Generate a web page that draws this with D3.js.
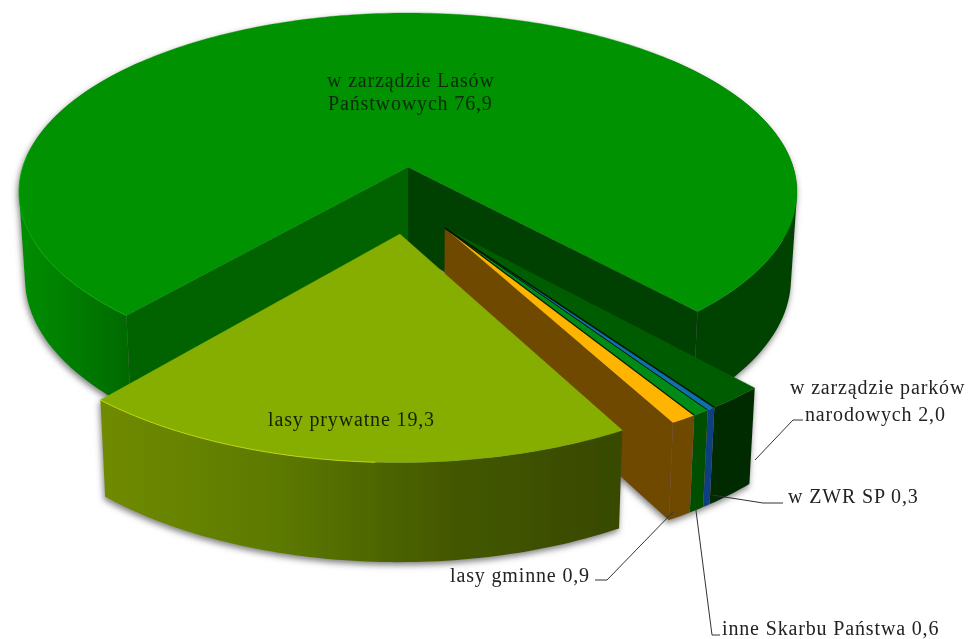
<!DOCTYPE html>
<html><head><meta charset="utf-8">
<script src="https://cdn.jsdelivr.net/npm/d3@7"></script>
<style>html,body{margin:0;padding:0;background:#fff}svg{display:block}</style>
</head><body><svg id="c" width="972" height="639"></svg>
<script>
// ---- data, clockwise from the big slice
const names  = ["w zarządzie Lasów Państwowych","w zarządzie parków narodowych","w ZWR SP","inne Skarbu Państwa","lasy gminne","lasy prywatne"];
const values = [76.9, 2.0, 0.3, 0.6, 0.9, 19.3];
const groups = ["big","small","small","small","small","private"];
const topColors  = ["#009200","#005c00","#0f6fb0","#008a14","#ffb400","#86ae00"];
const wallColors = ["#034203","#002a00","#0a3f80","#004f00","#6f4a00","#4f6a00"];
const bigFrontStops  = ["#008c00","#007c00","#006a00"];
const privFrontStops = ["#708b00","#5d7a00","#445800","#384800"];

// ---- layout
const W = 972, H = 639, deg = Math.PI/180;
const topPlane = {xc:408, yc:192, a:389, b:179};
const botPlane = {xc:408, yc:278.6, a:383, b:187.6};
const v0 = -0.14, sq = Math.sqrt(1 - v0*v0);
const groupOffset = {big:[0,0], private:[-0.02,0.363], small:[0.0915,0.332]};
const firstAngle = 220.8*deg;

function project(X, Y, pl){
  const den = 1 + Y*v0;
  return [pl.xc + pl.a*X*sq/den, pl.yc + pl.b*(Y+v0)/den];
}
function pt(slice, ang, r, pl){
  const o = groupOffset[slice.group];
  return project(o[0] + r*Math.sin(ang), o[1] - r*Math.cos(ang), pl);
}

const pie = d3.pie().sort(null).value(d=>d.value).startAngle(firstAngle).endAngle(firstAngle+2*Math.PI);
const slices = pie(values.map((v,i)=>({value:v,i}))).map(s=>({
  start:s.startAngle, end:s.endAngle, i:s.data.i, value:s.data.value, group:groups[s.data.i]
}));

const svg = d3.select("#c");
svg.append("rect").attr("width",W).attr("height",H).attr("fill","#fff");
const defs = svg.append("defs");
defs.append("filter").attr("id","sh").attr("x","-10%").attr("y","-10%").attr("width","120%").attr("height","120%")
  .append("feDropShadow").attr("dx",-1).attr("dy",3).attr("stdDeviation",3).attr("flood-color","#555").attr("flood-opacity",.75);
defs.append("filter").attr("id","soft").attr("x","-2%").attr("y","-2%").attr("width","104%").attr("height","104%")
  .append("feGaussianBlur").attr("stdDeviation",.45);

function hGrad(id, x0, x1, stops){
  const g = defs.append("linearGradient").attr("id",id).attr("gradientUnits","userSpaceOnUse")
    .attr("x1",x0).attr("x2",x1).attr("y1",0).attr("y2",0);
  stops.forEach((c,k)=>g.append("stop").attr("offset",k/(stops.length-1)).attr("stop-color",c));
  return "url(#"+id+")";
}

const page = svg.append("g").attr("filter","url(#soft)");
const root = page.append("g").attr("filter","url(#sh)");
const line = d3.line();

function arcPts(s, pl, from, to){
  const n = Math.max(2, Math.ceil(Math.abs(to-from)/(1*deg)));
  return d3.range(n+1).map(k=>pt(s, from+(to-from)*k/n, 1, pl));
}
function drawTop(g, s){
  const a = pt(s, s.start, 0, topPlane);
  g.append("path").attr("d", line([a,...arcPts(s,topPlane,s.start,s.end)])+"Z")
    .attr("fill",topColors[s.i]).attr("stroke",topColors[s.i]).attr("stroke-width",.4);
}
// wall drawn as one path of many small quads, all wound the same way
function drawOuter(g, s, from, to, fill){
  const n = Math.max(1, Math.ceil((to-from)/(1*deg)));
  const d = d3.range(n).map(k=>{
    const t0 = from+(to-from)*k/n, t1 = from+(to-from)*(k+1)/n;
    const q = [pt(s,t0,1,topPlane),pt(s,t1,1,topPlane),pt(s,t1,1,botPlane),pt(s,t0,1,botPlane)];
    if (d3.polygonArea(q) < 0) q.reverse();
    return line(q)+"Z";
  }).join("");
  g.append("path").attr("d", d).attr("fill",fill).attr("fill-rule","nonzero").attr("stroke","none");
}
function drawSide(g, s, ang, color){
  g.append("path").attr("d", line([pt(s,ang,0,topPlane),pt(s,ang,1,topPlane),pt(s,ang,1,botPlane),pt(s,ang,0,botPlane)])+"Z")
    .attr("fill",color).attr("stroke",color).attr("stroke-width",.4);
}

const [big, parks, zwr, inne, gminne, priv] = slices;

// big slice
const gBig = root.append("g");
const xL = pt(big, big.start+50*deg, 1, topPlane)[0], xC = pt(big, big.start, 1, topPlane)[0];
drawOuter(gBig, big, big.start, big.start+90*deg, hGrad("bigFront", xL, xC, bigFrontStops));
drawOuter(gBig, big, big.end-90*deg, big.end, wallColors[big.i]);
drawSide(gBig, big, big.end, "#033f03");
drawSide(gBig, big, big.start, "#006300");
drawTop(gBig, big);
gBig.append("path").attr("d", line(arcPts(big,topPlane,big.start,big.start+55*deg)))
  .attr("fill","none").attr("stroke","#0cb00c").attr("stroke-width",1).attr("opacity",.8);

// small wedges, back to front
const gSmall = root.append("g");
[parks, zwr, inne, gminne].forEach(s=>drawOuter(gSmall, s, s.start, s.end, wallColors[s.i]));
drawSide(gSmall, gminne, gminne.end, wallColors[gminne.i]);
[parks, zwr, inne, gminne].forEach(s=>drawTop(gSmall, s));
[[zwr.start,1.6,zwr],[zwr.end,1,zwr],[inne.end,1.2,inne]].forEach(([ang,w,s])=>{
  gSmall.append("path").attr("d", line([pt(s,ang,0,topPlane),pt(s,ang,1,topPlane)]))
    .attr("stroke","#021a02").attr("stroke-width",w).attr("fill","none");
});

// private forests slice
const gPriv = root.append("g");
const xPL = pt(priv, priv.end, 1, topPlane)[0], xPR = pt(priv, priv.start, 1, topPlane)[0];
drawOuter(gPriv, priv, priv.start, priv.end, hGrad("privFront", xPL, xPR, privFrontStops));
drawTop(gPriv, priv);
gPriv.append("path").attr("d", line(arcPts(priv,topPlane,priv.end-38*deg,priv.end)))
  .attr("fill","none").attr("stroke","#cfe000").attr("stroke-width",1).attr("opacity",.8);

// ---- leaders and labels
const leaderPaths = [
  [[755,460],[793,420],[803,420]],
  [[712,495],[763,503],[783,503]],
  [[695,503],[712,635],[720,635]],
  [[673,512],[607,580],[595,580]]
];
leaderPaths.forEach(p=>page.append("path").attr("d",line(p)).attr("fill","none").attr("stroke","#333").attr("stroke-width",1));

const labelLines = [
  ["w zarządzie Lasów",327,87,"#0a2a0a"],
  ["Państwowych 76,9",328,110,"#0a2a0a"],
  ["lasy prywatne 19,3",268,426,"#162000"],
  ["w zarządzie parków",790,394,"#222"],
  ["narodowych 2,0",805,421,"#222"],
  ["w ZWR SP 0,3",788,503,"#222"],
  ["lasy gminne 0,9",450,582,"#222"],
  ["inne Skarbu Państwa 0,6",722,635,"#222"]
];
page.selectAll("text.l").data(labelLines).join("text").attr("class","l")
  .attr("x",d=>d[1]).attr("y",d=>d[2]).text(d=>d[0]).attr("fill",d=>d[3])
  .attr("font-family","'Liberation Serif',serif").attr("font-size",20).attr("letter-spacing",.85);
</script></body></html>
